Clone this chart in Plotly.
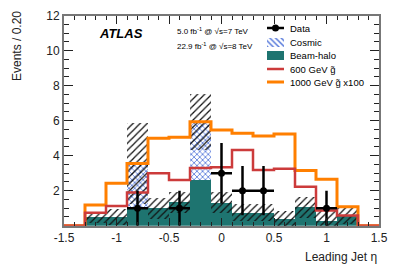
import plotly.graph_objects as go

# ---- data ----
bin_edges = [-1.5, -1.3, -1.1, -0.9, -0.7, -0.5, -0.3, -0.1, 0.1, 0.3, 0.5, 0.7, 0.9, 1.1, 1.3, 1.5]
bin_centers = [-1.4, -1.2, -1.0, -0.8, -0.6, -0.4, -0.2, 0.0, 0.2, 0.4, 0.6, 0.8, 1.0, 1.2, 1.4]
beam_halo = [0, 0.5, 0.5, 1.09, 1.02, 1.35, 2.65, 1.32, 0.76, 0.76, 0.4, 1.07, 0.3, 0.6, 0]
cosmic = [0, 0, 0, 2.47, 0, 0, 3.29, 0, 0, 0, 0, 0, 0, 0, 0]
bkg_err = [0, 0.3, 0.45, 2.3, 0.6, 0.6, 1.6, 0.6, 0.5, 0.5, 0.43, 0.6, 0.6, 0.5, 0]
sig600 = [0, 0.74, 1.13, 1.89, 2.99, 2.61, 3.3, 3.34, 4.33, 3.18, 3.26, 2.23, 0.87, 0.58, 0]
sig1000 = [0, 1.18, 2.42, 3.56, 4.99, 5.05, 5.94, 5.47, 5.28, 5.13, 5.24, 3.15, 2.65, 1.08, 0]
data_x = [-0.8, -0.4, 0.0, 0.2, 0.4, 1.0]
data_y = [1, 1, 3, 2, 2, 1]
data_err = [1.0, 1.0, 1.73, 1.41, 1.41, 1.0]
bin_width = 0.2

x_ticks = [-1.5, -1, -0.5, 0, 0.5, 1, 1.5]
x_ticktext = ["-1.5", "-1", "-0.5", "0", "0.5", "1", "1.5"]
y_ticks = [2, 4, 6, 8, 10, 12]
y_ticktext = ["2", "4", "6", "8", "10", "12"]

legend_labels = ["Data", "Cosmic", "Beam-halo", "600 GeV g\u0303", "1000 GeV g\u0303 x100"]

TEAL = "#1e7470"
RED = "#cc3b3b"
ORANGE = "#ff7f00"
BLUE = "#4a6fd8"
FONT = "Liberation Sans, Arial, sans-serif"

W, H = 399, 270
fig = go.Figure()

total = [h + c for h, c in zip(beam_halo, cosmic)]
band_base = [max(t - e, 0) for t, e in zip(total, bkg_err)]
band_h = [t + e - b for t, e, b in zip(total, bkg_err, band_base)]

fig.add_trace(go.Bar(x=bin_centers, y=beam_halo, width=bin_width, marker=dict(color=TEAL, line=dict(width=0)),
                     showlegend=False))
fig.add_trace(go.Bar(x=bin_centers, y=cosmic, base=beam_halo, width=bin_width,
                     marker=dict(color="white", line=dict(width=0),
                                 pattern=dict(shape="x", fgcolor=BLUE, bgcolor="white", fgopacity=1,
                                              size=4, solidity=0.35)),
                     showlegend=False))
fig.add_trace(go.Bar(x=bin_centers, y=band_h, base=band_base, width=bin_width,
                     marker=dict(color="rgba(0,0,0,0)", line=dict(width=0),
                                 pattern=dict(shape="/", fgcolor="#111", bgcolor="rgba(0,0,0,0)", fgopacity=1,
                                              size=5, solidity=0.25)),
                     showlegend=False))

fig.add_trace(go.Scatter(x=bin_edges, y=sig1000 + [sig1000[-1]], mode="lines", line=dict(color=ORANGE, width=3, shape="hv"),
                         showlegend=False))
fig.add_trace(go.Scatter(x=bin_edges, y=sig600 + [sig600[-1]], mode="lines", line=dict(color=RED, width=2.5, shape="hv"),
                         showlegend=False))
fig.add_trace(go.Scatter(x=data_x, y=data_y, mode="markers", marker=dict(color="black", size=7),
                         error_y=dict(type="data", array=data_err, color="black", thickness=2.5, width=0),
                         error_x=dict(type="constant", value=bin_width / 2, color="black", thickness=2.5, width=0),
                         showlegend=False))

# ---- legend swatches on a pixel-space overlay axis ----
lx0, lx1 = 267, 284
rows = [28, 42, 55.5, 69, 82]
fig.add_trace(go.Scatter(x=[lx0, lx1], y=[rows[0], rows[0]], mode="lines", line=dict(color="black", width=2.5),
                         xaxis="x2", yaxis="y2", showlegend=False, hoverinfo="skip"))
fig.add_trace(go.Scatter(x=[(lx0 + lx1) / 2], y=[rows[0]], mode="markers", marker=dict(color="black", size=7),
                         xaxis="x2", yaxis="y2", showlegend=False, hoverinfo="skip"))
fig.add_trace(go.Bar(x=[(lx0 + lx1) / 2], y=[9], base=[rows[1] - 4.5], width=lx1 - lx0,
                     marker=dict(color="white", line=dict(width=0),
                                 pattern=dict(shape="\\", fgcolor=BLUE, bgcolor="white", fgopacity=1,
                                              size=4, solidity=0.35)),
                     xaxis="x2", yaxis="y2", showlegend=False, hoverinfo="skip"))
fig.add_trace(go.Bar(x=[(lx0 + lx1) / 2], y=[9], base=[rows[2] - 4.5], width=lx1 - lx0,
                     marker=dict(color=TEAL, line=dict(width=0)),
                     xaxis="x2", yaxis="y2", showlegend=False, hoverinfo="skip"))
fig.add_trace(go.Scatter(x=[lx0, lx1], y=[rows[3], rows[3]], mode="lines", line=dict(color=RED, width=2.5),
                         xaxis="x2", yaxis="y2", showlegend=False, hoverinfo="skip"))
fig.add_trace(go.Scatter(x=[lx0, lx1], y=[rows[4], rows[4]], mode="lines", line=dict(color=ORANGE, width=3),
                         xaxis="x2", yaxis="y2", showlegend=False, hoverinfo="skip"))

annotations = []
for lab, ry in zip(legend_labels, rows):
    annotations.append(dict(text=lab, x=288 / W, y=1 - ry / H, xref="paper", yref="paper", xanchor="left",
                            yanchor="middle", showarrow=False, font=dict(family=FONT, size=9.5, color="black")))
annotations += [
    dict(text="<b><i>ATLAS</i></b>", x=97 / W, y=1 - 33 / H, xref="paper", yref="paper", xanchor="left",
         yanchor="middle", showarrow=False, font=dict(family=FONT, size=13, color="black")),
    dict(text="5.0 fb<sup>-1</sup> @ \u221as=7 TeV", x=175 / W, y=1 - 31 / H, xref="paper", yref="paper",
         xanchor="left", yanchor="middle", showarrow=False, font=dict(family=FONT, size=8, color="black")),
    dict(text="22.9 fb<sup>-1</sup> @ \u221as=8 TeV", x=175 / W, y=1 - 46 / H, xref="paper", yref="paper",
         xanchor="left", yanchor="middle", showarrow=False, font=dict(family=FONT, size=8, color="black")),
    dict(text="Events / 0.20", x=17 / W, y=1 - 9 / H, xref="paper", yref="paper", xanchor="center",
         yanchor="top", textangle=-90, showarrow=False, font=dict(family=FONT, size=12, color="#222")),
    dict(text="Leading Jet \u03b7", x=379 / W, y=1 - 257 / H, xref="paper", yref="paper", xanchor="right",
         yanchor="middle", showarrow=False, font=dict(family=FONT, size=12, color="#222")),
]

axis_common = dict(showline=True, linecolor="#777", linewidth=2, mirror="allticks", ticks="inside",
                   tickcolor="#222", tickwidth=1, showgrid=False, zeroline=False, automargin=False,
                   tickfont=dict(family=FONT, size=12, color="#222"))

fig.update_layout(
    template="none",
    width=W, height=H, margin=dict(l=0, r=0, t=0, b=0, autoexpand=False),
    paper_bgcolor="white", plot_bgcolor="rgba(0,0,0,0)",
    barmode="overlay", bargap=0, showlegend=False,
    xaxis=dict(domain=[64 / W, 379 / W], range=[-1.5, 1.5], tickvals=x_ticks, ticktext=x_ticktext, ticklen=8,
               minor=dict(dtick=0.1, ticklen=4, ticks="inside", tickcolor="#222"), anchor="y", **axis_common),
    yaxis=dict(domain=[1 - 225.7 / H, 1 - 15.7 / H], range=[0, 12], tickvals=y_ticks, ticktext=y_ticktext, ticklen=9,
               minor=dict(dtick=0.5, ticklen=5, ticks="inside", tickcolor="#222"), anchor="x", **axis_common),
    xaxis2=dict(domain=[0, 1], range=[0, W], visible=False, fixedrange=True, anchor="y2", automargin=False),
    yaxis2=dict(domain=[0, 1], range=[H, 0], visible=False, fixedrange=True, anchor="x2", automargin=False),
    annotations=annotations,
)

fig.write_html("out.html", config={"displayModeBar": False},
               post_script="document.body.style.margin='0px';document.body.style.overflow='hidden';")
